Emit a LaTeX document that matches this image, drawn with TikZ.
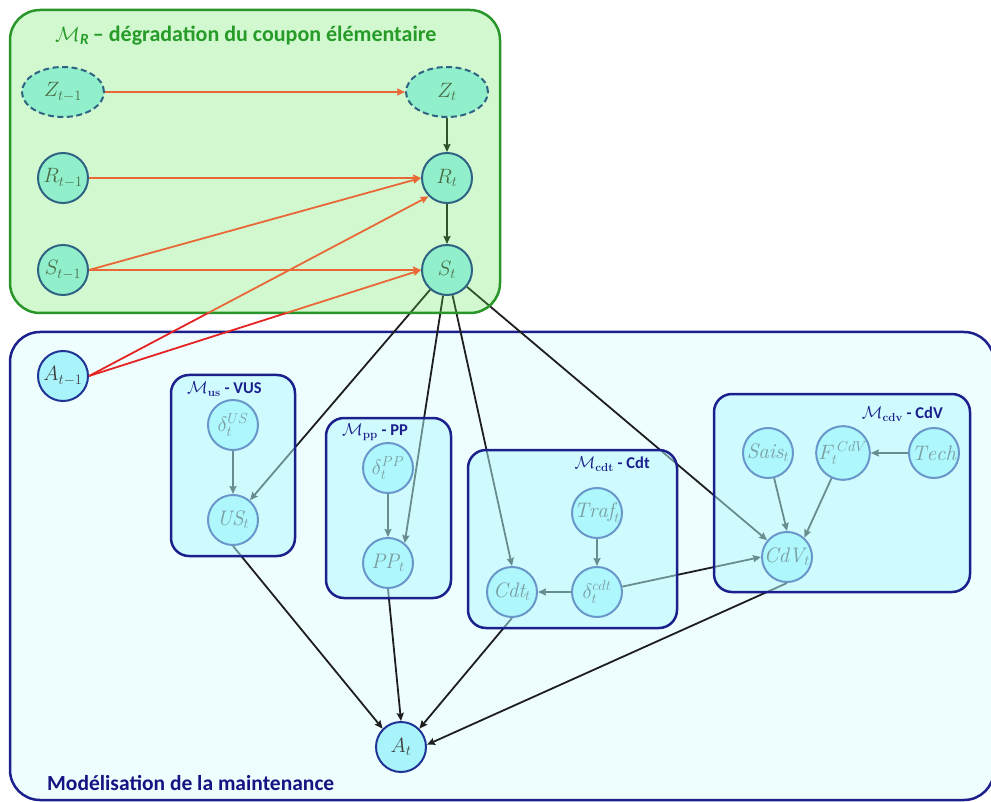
\documentclass[tikz,border=0pt]{standalone}
\usepackage{fontspec}
\setsansfont{Carlito}
\usetikzlibrary{arrows.meta,shapes.geometric}
\definecolor{boxblue}{RGB}{28,32,140}
\definecolor{gboxline}{RGB}{40,150,40}
\definecolor{gtitle}{RGB}{38,155,40}
\definecolor{gfill}{RGB}{90,228,80}
\definecolor{cfill}{RGB}{180,250,255}
\definecolor{basefill}{RGB}{238,254,254}
\definecolor{nodefill}{RGB}{168,244,250}
\definecolor{nodeline}{RGB}{32,52,150}
\definecolor{eorange}{RGB}{232,105,55}
\definecolor{ered}{RGB}{230,35,35}
\definecolor{edark}{RGB}{30,30,30}
\definecolor{maintitle}{RGB}{20,20,130}
\begin{document}
\begin{tikzpicture}[x=1pt,y=-1pt,
  var/.style={circle,draw=nodeline,line width=2pt,fill=nodefill,minimum size=50pt,inner sep=0pt,text=black!75,font=\fontsize{21}{21}\selectfont},
  dvar/.style={ellipse,draw=nodeline,line width=2pt,dash pattern=on 6pt off 3.5pt,fill=nodefill,minimum width=82pt,minimum height=50pt,inner sep=0pt,text=black!75,font=\fontsize{21}{21}\selectfont},
  dep/.style={draw=edark,line width=1.8pt,-{Stealth[length=8pt,width=7pt,inset=1pt]}},
  tra/.style={draw=eorange,line width=1.8pt,-{Stealth[length=8pt,width=7pt,inset=1pt]}},
  trared/.style={draw=ered,line width=1.8pt,-{Stealth[length=8pt,width=7pt,inset=1pt]}},
  subbox/.style={rounded corners=18pt},
  subtitle/.style={text=boxblue,font=\sffamily\bfseries\fontsize{16.5}{16.5}\selectfont,inner sep=0pt},
]
\useasboundingbox (0,0) rectangle (991,802);
% main maintenance box (base)
\draw[boxblue,line width=2.5pt,fill=basefill,rounded corners=30pt] (10,332) rectangle (994,800);

% nodes
\node[dvar] (Zp) at (63,92) {$Z_{t-1}$};
\node[dvar] (Zt) at (447,92) {$Z_t$};
\node[var] (Rp) at (63,178) {$R_{t-1}$};
\node[var] (Rt) at (447,178) {$R_t$};
\node[var] (Sp) at (63,270) {$S_{t-1}$};
\node[var] (St) at (447,270) {$S_t$};
\node[var] (Ap) at (63,376) {$A_{t-1}$};
\node[var] (dUS) at (233,425) {$\delta_t^{US}$};
\node[var] (US) at (233,520) {$\mathit{US}_t$};
\node[var] (dPP) at (388,468) {$\delta_t^{PP}$};
\node[var] (PP) at (388,563) {$\mathit{PP}_t$};
\node[var] (Traf) at (597,513) {$\mathit{Traf}_t$};
\node[var] (dcdt) at (597,592) {$\delta_t^{cdt}$};
\node[var] (Cdt) at (512,592) {$\mathit{Cdt}_t$};
\node[var] (Sais) at (768,453) {$\mathit{Sais}_t$};
\node[var] (F) at (843,453) {$F_t^{\,CdV}$};
\node[var] (Tech) at (934,453) {$\mathit{Tech}$};
\node[var] (CdV) at (787,557) {$\mathit{CdV}_t$};
\node[var] (At) at (401,747) {$A_t$};

% dark dependency arrows
\draw[dep] (Zt) -- (Rt);
\draw[dep] (Rt) -- (St);
\draw[dep] (St) -- (US);
\draw[dep] (St) -- (PP.50);
\draw[dep] (St) -- (Cdt.north);
\draw[dep] (St) -- (CdV);
\draw[dep] (dUS) -- (US);
\draw[dep] (dPP) -- (PP);
\draw[dep] (Traf) -- (dcdt);
\draw[dep] (dcdt) -- (Cdt);
\draw[dep] (dcdt) -- (CdV.west);
\draw[dep] (Sais) -- (CdV.north);
\draw[dep] (F) -- (CdV.48);
\draw[dep] (Tech) -- (F);
\draw[dep] (US.south) -- (At.135);
\draw[dep] (PP.south) -- (At.north);
\draw[dep] (Cdt.south) -- (At.45);
\draw[dep] (CdV.south) -- (At.5);

% translucent overlays
\fill[cfill,fill opacity=0.5,subbox] (171,375) rectangle (295,556);
\fill[cfill,fill opacity=0.5,subbox] (326,418) rectangle (451,598);
\fill[cfill,fill opacity=0.5,subbox] (468,450) rectangle (677,628);
\fill[cfill,fill opacity=0.5,subbox] (714,394) rectangle (970,592);
\fill[gfill,fill opacity=0.27,rounded corners=30pt] (10,10) rectangle (500,313);

% box borders
\draw[boxblue,line width=2.5pt,subbox] (171,375) rectangle (295,556);
\draw[boxblue,line width=2.5pt,subbox] (326,418) rectangle (451,598);
\draw[boxblue,line width=2.5pt,subbox] (468,450) rectangle (677,628);
\draw[boxblue,line width=2.5pt,subbox] (714,394) rectangle (970,592);
\draw[gboxline,line width=2.5pt,rounded corners=30pt] (10,10) rectangle (500,313);

% titles
\node[anchor=west,inner sep=0pt,text=gtitle,font=\sffamily\bfseries\fontsize{22}{22}\selectfont] (tR) at (55,36) {$\mathcal{M}$\textsubscript{\textit{R}}\,– dégradation du coupon élémentaire};
\node[subtitle,anchor=west] (tUS) at (187,389) {$\mathcal{M}$\textsubscript{\rmfamily us} - VUS};
\node[subtitle,anchor=west] (tPP) at (342,432) {$\mathcal{M}$\textsubscript{\rmfamily pp} - PP};
\node[subtitle,anchor=east] (tCdt) at (650,464) {$\mathcal{M}$\textsubscript{\rmfamily cdt} - Cdt};
\node[subtitle,anchor=east] (tCdV) at (943,414) {$\mathcal{M}$\textsubscript{\rmfamily cdv} - CdV};
\node[anchor=west,inner sep=0pt,text=maintitle,font=\sffamily\bfseries\fontsize{21.5}{21.5}\selectfont] (tM) at (47,783) {Modélisation de la maintenance};

% temporal arrows (orange inside the degradation box)
\draw[tra] (Zp) -- (Zt);
\draw[tra] (Rp) -- (Rt);
\draw[tra] (Sp.east) -- (Rt.west);
\draw[tra] (Sp) -- (St);
\begin{scope}
  \clip (0,313) rectangle (991,802);
  \draw[trared] (Ap.east) -- (Rt.225);
  \draw[trared] (Ap.east) -- (St.west);
\end{scope}
\begin{scope}
  \clip (0,0) rectangle (991,313);
  \draw[tra] (Ap.east) -- (Rt.225);
  \draw[tra] (Ap.east) -- (St.west);
\end{scope}
\end{tikzpicture}
\end{document}
